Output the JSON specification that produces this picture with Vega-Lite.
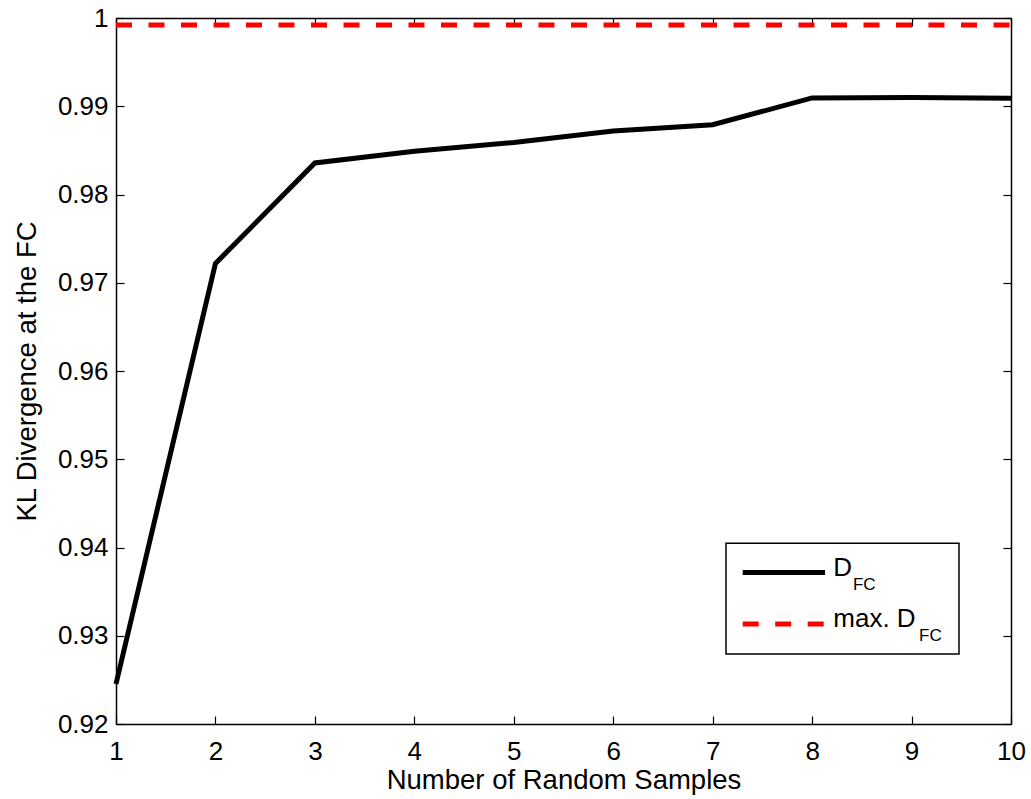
{
  "$schema": "https://vega.github.io/schema/vega-lite/v6.json",
  "width": 895,
  "height": 706,
  "autosize": {"type": "none"},
  "padding": {"left": 116, "top": 18, "right": 20, "bottom": 75},
  "background": "white",
  "config": {
    "view": {"stroke": null},
    "font": "Liberation Sans",
    "axis": {
      "grid": false,
      "domainColor": "black",
      "domainWidth": 1.5,
      "tickColor": "black",
      "tickWidth": 1.2,
      "tickSize": -8,
      "labelFlush": false,
      "labelOverlap": false,
      "labelFont": "Liberation Sans",
      "labelFontSize": 26,
      "labelColor": "black",
      "titleFont": "Liberation Sans",
      "titleFontSize": 27.5,
      "titleFontWeight": "normal",
      "titleColor": "black"
    }
  },
  "datasets": {
    "series": [
      {"samples": 1, "kl": 0.92453},
      {"samples": 2, "kl": 0.97219},
      {"samples": 3, "kl": 0.98358},
      {"samples": 4, "kl": 0.9849},
      {"samples": 5, "kl": 0.9859},
      {"samples": 6, "kl": 0.9872},
      {"samples": 7, "kl": 0.9879},
      {"samples": 8, "kl": 0.99094},
      {"samples": 9, "kl": 0.99100},
      {"samples": 10, "kl": 0.99090}
    ],
    "maxline": [
      {"samples": 1, "kl": 0.99921},
      {"samples": 10, "kl": 0.99921}
    ],
    "legendbox": [
      {"x1": 7.134, "x2": 9.477, "y1": 0.94049, "y2": 0.92792}
    ],
    "legendlines": [
      {"x1": 7.302, "x2": 8.13, "y": 0.93717, "series": "D"},
      {"x1": 7.302, "x2": 8.13, "y": 0.93132, "series": "max"}
    ],
    "legendtext": [
      {"x": 8.213, "y": 0.93679, "label": "D", "size": 26},
      {"x": 8.411, "y": 0.93517, "label": "FC", "size": 17},
      {"x": 8.213, "y": 0.93098, "label": "max. D", "size": 26},
      {"x": 9.075, "y": 0.92943, "label": "FC", "size": 17}
    ]
  },
  "layer": [
    {
      "data": {"name": "maxline"},
      "mark": {"type": "line", "color": "#ff0000", "strokeWidth": 5, "strokeDash": [16, 16.5], "clip": true},
      "encoding": {
        "x": {"field": "samples", "type": "quantitative", "scale": {"domain": [1, 10], "nice": false, "zero": false},
              "axis": {"orient": "top", "labels": false, "title": null, "values": [1,2,3,4,5,6,7,8,9,10]}},
        "y": {"field": "kl", "type": "quantitative", "scale": {"domain": [0.92, 1.0], "nice": false, "zero": false},
              "axis": {"orient": "right", "labels": false, "title": null, "values": [0.92,0.93,0.94,0.95,0.96,0.97,0.98,0.99,1.0]}}
      }
    },
    {
      "data": {"name": "series"},
      "mark": {"type": "line", "color": "black", "strokeWidth": 5, "strokeJoin": "miter"},
      "encoding": {
        "x": {"field": "samples", "type": "quantitative",
              "axis": {"orient": "bottom", "title": "Number of Random Samples", "values": [1,2,3,4,5,6,7,8,9,10], "labelPadding": 22, "titlePadding": 2}},
        "y": {"field": "kl", "type": "quantitative",
              "axis": {"orient": "left", "title": "KL Divergence at the FC", "values": [0.92,0.93,0.94,0.95,0.96,0.97,0.98,0.99,1.0], "labelPadding": 16, "titlePadding": 16, "labelExpr": "datum.value == 1 ? '1' : format(datum.value, '.2f')"}}
      }
    },
    {
      "data": {"name": "legendbox"},
      "mark": {"type": "rect", "fill": "white", "stroke": "black", "strokeWidth": 1.5},
      "encoding": {
        "x": {"field": "x1", "type": "quantitative", "axis": null},
        "x2": {"field": "x2"},
        "y": {"field": "y1", "type": "quantitative", "axis": null},
        "y2": {"field": "y2"}
      }
    },
    {
      "data": {"name": "legendlines"},
      "mark": {"type": "rule", "strokeWidth": 5},
      "encoding": {
        "x": {"field": "x1", "type": "quantitative", "axis": null},
        "x2": {"field": "x2"},
        "y": {"field": "y", "type": "quantitative", "axis": null},
        "color": {"field": "series", "type": "nominal", "scale": {"domain": ["D", "max"], "range": ["black", "#ff0000"]}, "legend": null},
        "strokeDash": {"field": "series", "type": "nominal", "scale": {"domain": ["D", "max"], "range": [[1, 0], [16, 16.5]]}, "legend": null}
      }
    },
    {
      "data": {"name": "legendtext"},
      "mark": {"type": "text", "align": "left", "baseline": "alphabetic", "font": "Liberation Sans", "color": "black"},
      "encoding": {
        "x": {"field": "x", "type": "quantitative", "axis": null},
        "y": {"field": "y", "type": "quantitative", "axis": null},
        "text": {"field": "label"},
        "size": {"field": "size", "type": "quantitative", "scale": null}
      }
    }
  ]
}
